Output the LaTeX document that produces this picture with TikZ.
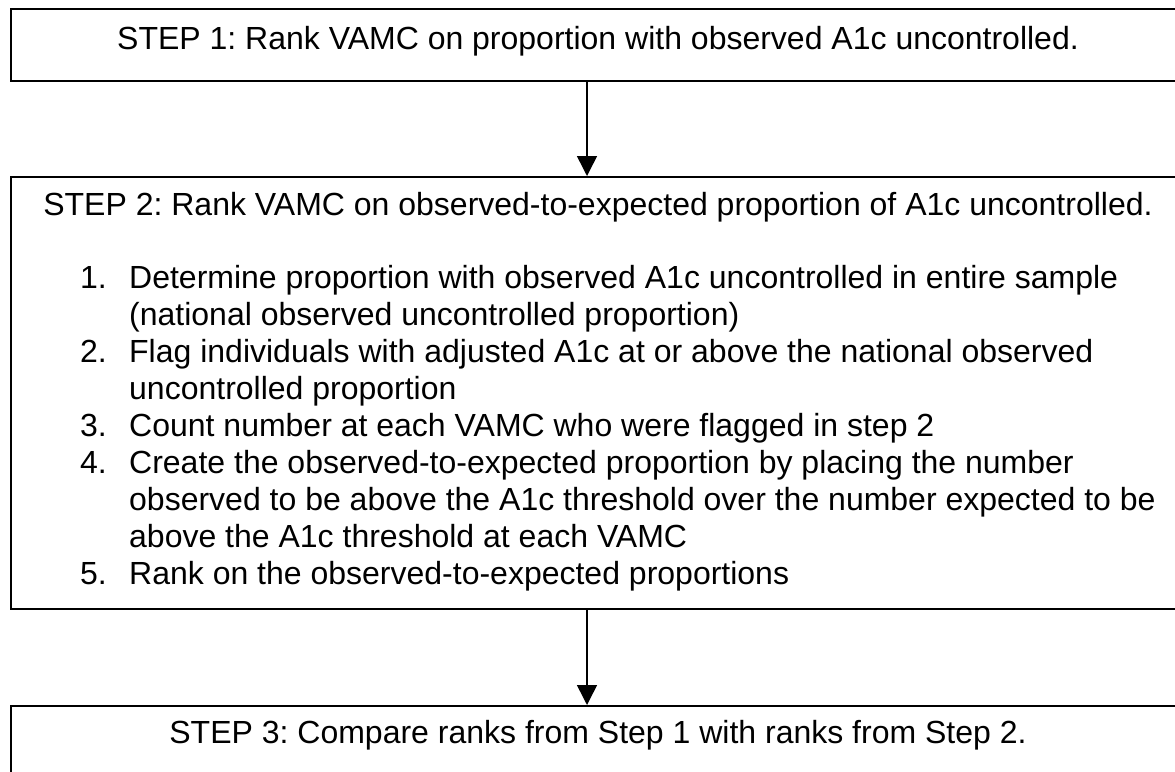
\documentclass[tikz,border=0pt]{standalone}
\usepackage{fontspec}
\setmainfont{Liberation Sans}
\usepackage{tikz}
\usetikzlibrary{arrows.meta}
\frenchspacing

\tikzset{
  stepbox/.style={draw, line width=1.5bp, inner sep=0bp, minimum width=1174bp, anchor=north,
    font=\fontsize{32bp}{37bp}\selectfont},
  itemtext/.style={inner sep=0bp, align=left, anchor=base west, font=\fontsize{32bp}{37bp}\selectfont},
  flow/.style={-{Triangle[length=20bp,width=20bp]}, line width=1.5bp}
}
\newcommand{\itemno}[1]{\makebox[49bp][l]{#1}}
\newcommand{\itemgap}{\hspace*{49bp}}

\begin{document}
\begin{tikzpicture}
\useasboundingbox (0bp,0bp) rectangle (1175bp,-772bp);
\clip (0bp,0bp) rectangle (1175bp,-772bp);
\node (S1) at (598bp,-8bp)[stepbox,text height=41bp,text depth=31bp] {STEP 1: Rank VAMC on proportion with observed A1c uncontrolled.};
\node (S2) at (598bp,-176bp)[stepbox,text height=39bp,text depth=393bp] {STEP 2: Rank VAMC on observed-to-expected proportion of A1c uncontrolled.};
% the list sits on the baseline of its last line
\node (L2) at (80bp,-584bp)[itemtext] {\itemno{1.}Determine proportion with observed A1c uncontrolled in entire sample\\
\itemgap(national observed uncontrolled proportion)\\
\itemno{2.}Flag individuals with adjusted A1c at or above the national observed\\
\itemgap uncontrolled proportion\\
\itemno{3.}Count number at each VAMC who were flagged in step 2\\
\itemno{4.}Create the observed-to-expected proportion by placing the number\\
\itemgap observed to be above the A1c threshold over the number expected to be\\
\itemgap above the A1c threshold at each VAMC\\
\itemno{5.}Rank on the observed-to-expected proportions};
\node (S3) at (598bp,-705bp)[stepbox,text height=38bp,text depth=60bp] {STEP 3: Compare ranks from Step 1 with ranks from Step 2.};
\draw [flow] ([xshift=-11bp]S1.south) -- ([xshift=-11bp]S2.north);
\draw [flow] ([xshift=-11bp]S2.south) -- ([xshift=-11bp]S3.north);
\end{tikzpicture}
\end{document}
